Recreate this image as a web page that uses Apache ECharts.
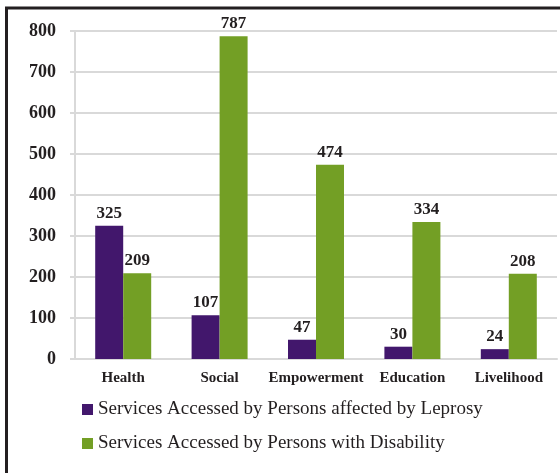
<!DOCTYPE html>
<html>
<head>
<meta charset="utf-8">
<script src="https://cdn.jsdelivr.net/npm/echarts@6/dist/echarts.min.js"></script>
<style>
  html, body { margin: 0; padding: 0; background: #fff; }
  #chart-content { width: 560px; height: 473px; }
</style>
</head>
<body>
<div id="chart-content"></div>
<script>
var categories = ['Health', 'Social', 'Empowerment', 'Education', 'Livelihood'];
var leprosyName = 'Services Accessed by Persons affected by Leprosy';
var disabilityName = 'Services Accessed by Persons with Disability';
var leprosyValues = [325, 107, 47, 30, 24];
var disabilityValues = [209, 787, 474, 334, 208];

var myChart = echarts.init(document.getElementById('chart-content'));
var serif = '"Liberation Serif", "DejaVu Serif", serif';
var labelStyle = {
    show: true,
    position: 'top',
    distance: 4,
    fontFamily: serif,
    fontWeight: 'bold',
    fontSize: 17,
    color: '#231f20'
};

myChart.setOption({
    animation: false,
    graphic: [
        {
            // frame round the figure
            type: 'polyline',
            shape: {points: [[6.5, 473], [6.5, 8], [560, 8]]},
            style: {stroke: '#231f20', lineWidth: 3, fill: null}
        }
    ],
    legend: {
        orient: 'vertical',
        left: 77,
        top: 395,
        itemWidth: 11,
        itemHeight: 11,
        itemGap: 15,
        icon: 'rect',
        textStyle: {fontFamily: serif, fontSize: 19, color: '#231f20'},
        data: [leprosyName, disabilityName]
    },
    grid: {left: 75, right: 3, top: 31, bottom: 114},
    xAxis: {
        type: 'category',
        data: categories,
        axisLine: {lineStyle: {color: '#d9d9d9', width: 2}},
        axisTick: {show: false},
        axisLabel: {
            interval: 0,
            margin: 12,
            fontFamily: serif,
            fontWeight: 'bold',
            fontSize: 15,
            color: '#231f20'
        }
    },
    yAxis: {
        type: 'value',
        min: 0,
        max: 800,
        interval: 100,
        axisLine: {show: true, lineStyle: {color: '#d9d9d9', width: 2}},
        axisTick: {show: true, length: 5, lineStyle: {color: '#d9d9d9', width: 2}},
        splitLine: {lineStyle: {color: '#d9d9d9', width: 2}},
        axisLabel: {
            margin: 19,
            fontFamily: serif,
            fontWeight: 'bold',
            fontSize: 18,
            color: '#231f20'
        }
    },
    series: [
        {
            name: leprosyName,
            type: 'bar',
            data: leprosyValues,
            barWidth: 28,
            barGap: '0%',
            itemStyle: {color: '#42176c'},
            label: labelStyle
        },
        {
            name: disabilityName,
            type: 'bar',
            data: disabilityValues,
            barWidth: 28,
            barGap: '0%',
            itemStyle: {color: '#739f25'},
            label: labelStyle
        }
    ]
});
</script>
</body>
</html>
